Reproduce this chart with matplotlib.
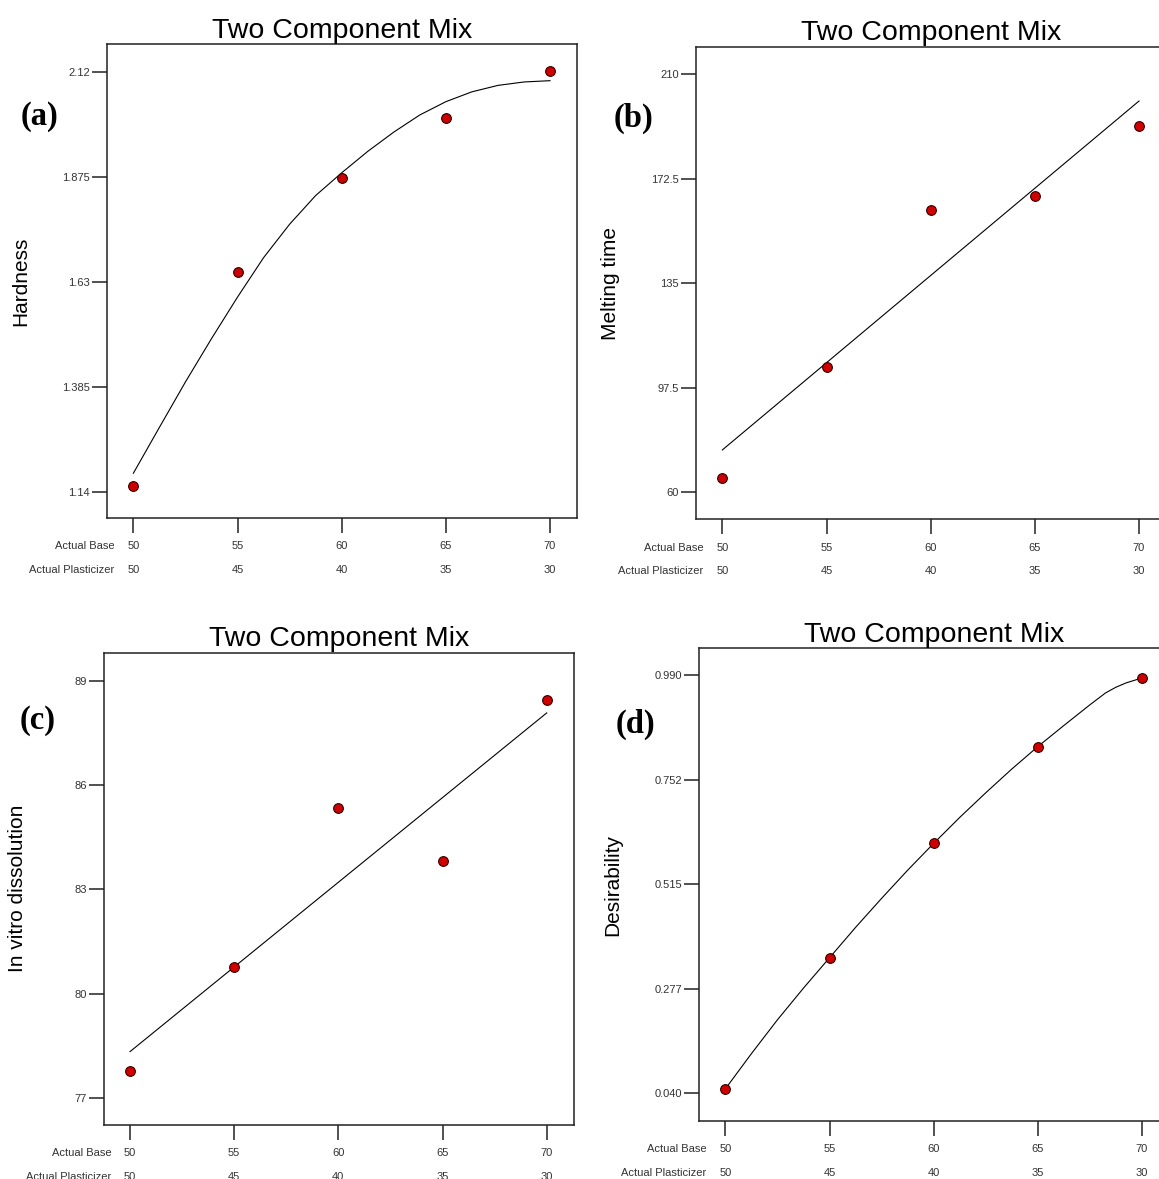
import matplotlib
matplotlib.use("Agg")
import matplotlib.pyplot as plt

plt.rcParams['font.family'] = ['Liberation Sans', 'DejaVu Sans']

# design points (Actual Base / Actual Plasticizer)
base = [50, 55, 60, 65, 70]
plasticizer = [50, 45, 40, 35, 30]

# measured responses
hardness = [1.153, 1.652, 1.871, 2.013, 2.121]
melting = [65.0, 105.1, 161.2, 166.2, 191.4]
dissolution = [77.77, 80.78, 85.33, 83.83, 88.43]
desirability = [0.050, 0.348, 0.608, 0.828, 0.984]

# model curves
fit_x = [50, 51.25, 52.5, 53.75, 55, 56.25, 57.5, 58.75, 60,
         61.25, 62.5, 63.75, 65, 66.25, 67.5, 68.75, 70]
hardness_fit = [1.183, 1.290, 1.396, 1.497, 1.594, 1.686, 1.764, 1.831, 1.884,
                1.934, 1.979, 2.019, 2.050, 2.073, 2.088, 2.096, 2.099]
melting_fit_x = [50, 70]
melting_fit = [75.2, 200.4]
dissolution_fit_x = [50, 70]
dissolution_fit = [78.34, 88.07]
desir_fit_x = [50, 51.25, 52.5, 53.75, 55, 56.25, 57.5, 58.75, 60,
               61.25, 62.5, 63.75, 65, 66.25, 67.5, 68.25, 68.75, 69.25, 70]
desir_fit = [0.050, 0.130, 0.207, 0.279, 0.348, 0.417, 0.483, 0.547, 0.608,
             0.667, 0.723, 0.777, 0.828, 0.876, 0.923, 0.950, 0.963, 0.973, 0.984]

W, H = 1159, 1179
fig = plt.figure(figsize=(W / 100, H / 100), dpi=100)


def box(left, top, bottom, width=470):
    return [left / W, 1 - bottom / H, width / W, (bottom - top) / H]


panels = [
    dict(pos=box(107.3, 44, 517.7), y=hardness, fx=fit_x, fy=hardness_fit,
         ylim=(1.0793, 2.1846), yt=[1.14, 1.385, 1.63, 1.875, 2.12],
         ytl=['1.14', '1.385', '1.63', '1.875', '2.12'], ylabel='Hardness',
         tag='(a)', tagxy=(39.5, 116)),
    dict(pos=box(696.3, 46.7, 519.3), y=melting, fx=melting_fit_x, fy=melting_fit,
         ylim=(50.31, 219.9), yt=[60, 97.5, 135, 172.5, 210],
         ytl=['60', '97.5', '135', '172.5', '210'], ylabel='Melting time',
         tag='(b)', tagxy=(633.5, 118)),
    dict(pos=box(104, 652.7, 1124.7), y=dissolution, fx=dissolution_fit_x, fy=dissolution_fit,
         ylim=(76.24, 89.80), yt=[77, 80, 83, 86, 89],
         ytl=['77', '80', '83', '86', '89'], ylabel='In vitro dissolution',
         tag='(c)', tagxy=(37.5, 720)),
    dict(pos=box(699.3, 648.3, 1120.7), y=desirability, fx=desir_fit_x, fy=desir_fit,
         ylim=(-0.0223, 1.0514), yt=[0.040, 0.2775, 0.515, 0.7525, 0.990],
         ytl=['0.040', '0.277', '0.515', '0.752', '0.990'], ylabel='Desirability',
         tag='(d)', tagxy=(635, 724)),
]

ticklen = 10.5
tickpad = 6.3
lsp = 2.7
for p in panels:
    ax = fig.add_axes(p['pos'])
    ax.plot(p['fx'], p['fy'], color='black', lw=0.8, zorder=2)
    ax.plot(base, p['y'], 'o', ms=7, mfc='#d00000', mec='#300000', mew=0.8,
            ls='none', zorder=3)
    ax.set_xlim(48.75, 71.31)
    ax.set_ylim(*p['ylim'])
    ax.set_yticks(p['yt'])
    ax.set_yticklabels(p['ytl'])
    ax.set_xticks(base)
    ax.set_xticklabels([f"{b}\n{q}" for b, q in zip(base, plasticizer)],
                       linespacing=lsp)
    ax.tick_params(direction='out', length=ticklen, width=1.1, color='#222',
                   labelsize=8, labelcolor='#333')
    ax.tick_params(axis='y', pad=2.0)
    ax.tick_params(axis='x', pad=tickpad)
    for s in ax.spines.values():
        s.set_linewidth(1.1)
        s.set_color('#222')
    ax.set_title('Two Component Mix', fontsize=20.5, pad=4.6)
    ax.set_ylabel(p['ylabel'], fontsize=15)
    ax.yaxis.set_label_coords(-0.163, 0.5)
    ax.annotate('Actual Base\nActual Plasticizer', xy=(49.1, 0),
                xycoords=('data', 'axes fraction'),
                xytext=(0, -(ticklen + tickpad)), textcoords='offset points',
                ha='right', va='top', fontsize=8, color='#333',
                linespacing=lsp, multialignment='right')
    tx, ty = p['tagxy']
    fig.text(tx / W, 1 - ty / H, p['tag'], fontsize=23.5, fontweight='bold',
             family='Liberation Serif', ha='center', va='center')

fig.savefig('out.png', dpi=100)
